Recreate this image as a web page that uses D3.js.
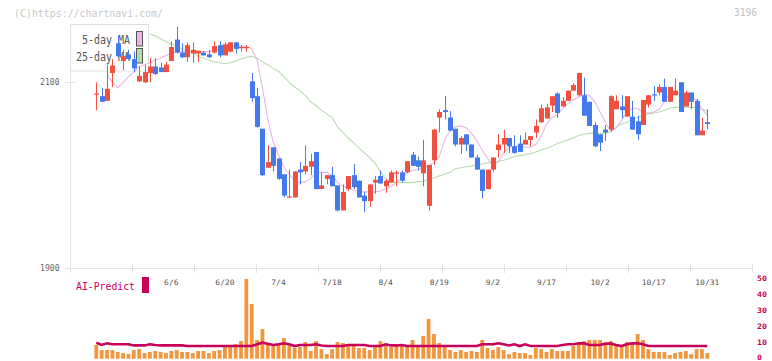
<!DOCTYPE html>
<html><head><meta charset="utf-8">
<script src="https://cdn.jsdelivr.net/npm/d3@7/dist/d3.min.js"></script>
<style>html,body{margin:0;padding:0;background:#fff}svg{display:block}text{font-family:"DejaVu Sans Mono",monospace}</style>
</head><body><svg id="c" width="772" height="361"></svg>
<script>
// ---- data ----
const open = [2088,2085,2080,2110,2142,2123,2130,2125,2101,2100, 2110,2117,2116,2111,2123,2146,2132,2127,2131,2131,
 2132,2130,2132,2140,2129,2133,2143,2137,2137,2101, 2085,2050,2008,2030,2018,2001,1976,1976,2006,2004,
 2009,2025,1985,1996,2000,1989,1962,1985,2000,1994, 1978,1972,1992,1999,1988,1992,2002,2003,2003,2022,
 2016,2002,1967,2016,2062,2070,2062,2050,2033,2044, 2033,2019,2006,1985,2006,2027,2033,2040,2031,2034,
 2033,2038,2046,2057,2061,2075,2088,2074,2080,2091, 2086,2086,2079,2054,2044,2049,2049,2071,2074,2063,
 2063,2058,2054,2076,2087,2089,2095,2079,2086,2100, 2074,2089,2080,2043,2057];
const close = [2088,2079,2093,2118,2128,2128,2125,2115,2107,2111, 2117,2109,2111,2119,2138,2132,2127,2140,2135,2134,
 2129,2127,2139,2129,2141,2143,2136,2138,2138,2083, 2052,2000,2014,2010,1996,1978,1977,2004,2003,2010,
 2015,1985,1989,2000,1988,1962,1982,1999,1987,1976, 1972,1990,1995,1991,1994,2003,2003,1994,2015,2010,
 2009,2016,2011,2049,2068,2068,2048,2033,2040,2033, 2019,2006,1983,2006,2019,2033,2040,2031,2024,2025,
 2038,2042,2053,2072,2073,2085,2067,2080,2091,2097, 2110,2064,2053,2031,2035,2046,2085,2080,2070,2085,
 2049,2044,2081,2086,2086,2095,2079,2095,2091,2068, 2089,2079,2043,2048,2055];
const high = [2100,2094,2119,2125,2150,2135,2135,2133,2117,2119, 2126,2126,2121,2122,2144,2160,2142,2143,2143,2134,
 2134,2135,2144,2144,2143,2143,2143,2140,2140,2110, 2094,2050,2032,2030,2018,2001,2006,2004,2014,2032,
 2023,2025,2003,2000,2009,1989,1990,1999,2012,1994, 1982,1990,1999,2005,1996,2005,2005,2005,2015,2025,
 2020,2038,2011,2050,2071,2085,2069,2050,2042,2044, 2033,2022,2006,2006,2019,2044,2049,2040,2043,2043,
 2046,2042,2060,2076,2077,2085,2089,2084,2091,2099, 2110,2105,2079,2057,2044,2054,2086,2086,2086,2085,
 2080,2064,2081,2086,2096,2098,2104,2095,2104,2100, 2091,2089,2082,2062,2071];
const low = [2070,2079,2080,2095,2127,2113,2124,2111,2100,2099, 2100,2108,2111,2111,2123,2131,2126,2122,2121,2122,
 2129,2126,2131,2127,2129,2132,2131,2133,2133,2079, 2051,1999,2008,2004,1995,1976,1976,1976,1990,2001,
 2000,1985,1985,1990,1988,1961,1962,1983,1985,1976, 1960,1966,1980,1991,1981,1992,1988,1992,2002,2010,
 2005,1988,1962,2011,2046,2060,2047,2031,2023,2026, 2019,2006,1975,1985,2004,2019,2024,2024,2023,2025,
 2033,2031,2040,2056,2061,2068,2062,2074,2080,2091, 2085,2064,2053,2030,2026,2037,2047,2071,2061,2063,
 2049,2038,2054,2073,2080,2086,2079,2079,2086,2068, 2074,2071,2043,2043,2049];
const ma5 = [null,null,2108,2100,2094,2100,2106,2111,2117,2119, 2121,2124,2126,2129,2131,2133,2133,2133,2133,2133,
 2133,2133,2134,2135,2136,2138,2139,2139,2139,2136, 2124,2094,2060,2036,2022,2009,2001,1994,1992,1993,
 1996,2003,2003,2003,2000,1992,1988,1986,1984,1982, 1982,1982,1982,1983,1985,1988,1992,1997,2003,2005,
 2006,2008,2010,2014,2020,2038,2048,2052,2053,2051, 2045,2037,2027,2018,2010,2014,2024,2030,2031,2031,
 2030,2030,2033,2042,2055,2062,2065,2072,2077,2081, 2084,2087,2086,2079,2068,2057,2047,2051,2059,2068,
 2072,2072,2067,2067,2068,2071,2079,2088,2088,2088, 2087,2083,2081,2071,2065];
const ma25 = [null,null,null,null,null,null,null,null,null,null, 2152,2150,2147,2144,2141,2139,2136,2134,2132,2128,
 2126,2124,2122,2121,2120,2121,2123,2125,2127,2128, 2126,2122,2119,2115,2112,2106,2100,2095,2091,2086,
 2079,2075,2070,2066,2062,2052,2046,2040,2035,2029, 2024,2019,2013,2004,1996,1993,1992,1992,1992,1992,
 1993,1993,1996,1997,1999,2001,2003,2007,2008,2009, 2010,2011,2012,2013,2014,2015,2016,2018,2020,2021,
 2022,2023,2025,2027,2029,2031,2034,2036,2038,2040, 2043,2044,2045,2045,2045,2045,2047,2051,2055,2057,
 2060,2062,2064,2066,2067,2068,2070,2072,2073,2073, 2073,2073,2073,2071,2069];
const volume = [8.6,5.4,5.4,5.4,4.2,3.5,2.9,5.4,6.0,3.5, 4.2,4.8,4.2,3.5,4.8,5.4,4.2,4.2,3.5,4.8,
 4.8,3.5,4.8,5.4,7.3,7.3,9.2,11.0,49.8,34.2, 11.7,18.5,9.2,7.9,9.2,12.9,8.5,6.7,7.3,10.4,
 4.8,11.0,6.0,2.9,6.0,10.4,9.8,8.5,9.2,6.7, 6.7,5.4,7.3,11.0,8.5,7.3,8.5,8.5,8.5,11.7,
 8.5,14.2,24.8,15.4,9.8,7.3,5.4,4.2,5.4,4.2, 4.8,4.2,11.7,6.7,5.4,7.3,5.4,2.9,4.2,3.5,
 3.5,2.3,6.7,6.0,4.2,6.0,4.8,4.8,4.8,7.9, 9.2,11.0,11.7,11.7,11.7,8.5,11.0,8.5,7.3,10.4,
 9.8,15.4,11.7,6.0,4.2,4.2,4.2,2.3,3.5,4.2, 4.8,2.9,6.0,6.0,3.5];
const aiPredict = [10,8.6,9.6,9,9,9,9,8.3,8.3,8.3, 9,8.6,8.3,8.3,8.3,8.3,8.3,7.9,7.9,7.9,
 7.9,7.9,7.9,7.9,7.9,7.9,7.9,7.9,7.9,7.9, 9,10,9.4,8.6,9,9.6,9,7.9,8.6,8.6,
 8.6,9,8.3,7.9,7.9,7.9,7.9,8.6,8.6,8.6, 8.6,7.9,7.9,7.9,9,8.3,8.3,8.6,7.9,7.9,
 7.9,7.9,7.9,7.9,7.9,7.9,7.9,7.9,7.9,7.9, 7.9,7.9,9,9,9,9.6,9,8.3,9,7.9,
 9,7.9,7.9,7.9,7.9,7.9,7.9,8.6,9,9, 9.6,9.6,8.6,8.6,8.6,9.4,9.4,8.6,7.9,9,
 9.6,9.6,9,7.9,7.9,7.9,7.9,7.9,7.9,7.9, 7.9,7.9,7.9,7.9,7.9];
const dateTickIdx = [14,24,34,44,54,64,74,84,94,104,114];
const dateTickLabels = ["6/6","6/20","7/4","7/18","8/4","8/19","9/2","9/17","10/2","10/17","10/31"];
const priceTicks = [1900, 2100];
const volTicks = [0,10,20,30,40,50];

// ---- drawing ----
const svg = d3.select("#c");
const n = close.length;
const x = d3.scaleLinear().domain([0, n-1]).range([96.3, 707.3]);
const y = d3.scaleLinear().domain([1900, 2100]).range([268, 82.3]);
const yv = d3.scaleLinear().domain([0, 50]).range([358.7, 278.7]);
const grid = d3.scaleLinear().domain([0, 11]).range([70, 752]);
const grey = "#e2e2e2";

svg.append("rect").attr("width",772).attr("height",361).attr("fill","#fff");

// watermark + code
svg.append("text").attr("x",14).attr("y",16.5).attr("font-size",11).attr("fill","#c8c8c8")
  .attr("textLength",149).attr("lengthAdjust","spacingAndGlyphs").text("(C)https://chartnavi.com/");
svg.append("text").attr("x",734).attr("y",16).attr("font-size",11).attr("fill","#c4c4c4")
  .attr("textLength",23).attr("lengthAdjust","spacingAndGlyphs").text("3196");

// axis frame
svg.append("line").attr("x1",70.5).attr("x2",70.5).attr("y1",24).attr("y2",268.5).attr("stroke",grey);
svg.append("line").attr("x1",65).attr("x2",752).attr("y1",268.5).attr("y2",268.5).attr("stroke",grey);
svg.selectAll(".gt").data(d3.range(12)).join("line")
  .attr("x1",d=>Math.round(grid(d))+0.5).attr("x2",d=>Math.round(grid(d))+0.5)
  .attr("y1",264).attr("y2",273).attr("stroke",grey);
svg.selectAll(".pt").data(priceTicks).join("line")
  .attr("x1",65).attr("x2",75).attr("y1",d=>Math.round(y(d))+0.5).attr("y2",d=>Math.round(y(d))+0.5).attr("stroke",grey);
svg.selectAll(".pl").data(priceTicks).join("text")
  .attr("x",59.5).attr("y",d=>y(d)+3).attr("text-anchor","end").attr("font-size",8).attr("fill","#666")
  .attr("textLength",19.5).attr("lengthAdjust","spacingAndGlyphs").text(d=>d);

// legend box
svg.append("rect").attr("x",70.5).attr("y",24.5).attr("width",78).attr("height",46.5)
  .attr("fill","#fff").attr("stroke","#dedede");
svg.append("text").attr("x",130).attr("y",44.3).attr("text-anchor","end").attr("font-size",12).attr("fill","#555")
  .attr("textLength",48).attr("lengthAdjust","spacingAndGlyphs").text("5-day MA");
svg.append("text").attr("x",130).attr("y",61).attr("text-anchor","end").attr("font-size",12).attr("fill","#555")
  .attr("textLength",54).attr("lengthAdjust","spacingAndGlyphs").text("25-day MA");
svg.append("rect").attr("x",136.5).attr("y",31.5).attr("width",6).attr("height",14.5).attr("fill","#ebb8e6").attr("stroke","#555");
svg.append("rect").attr("x",136.5).attr("y",48.5).attr("width",6).attr("height",14.5).attr("fill","#b6dbab").attr("stroke","#555");

// moving averages
const lineGen = d3.line().defined(d=>d!=null).x((d,i)=>x(i)).y(d=>y(d));
svg.append("path").datum(ma25).attr("d",lineGen).attr("fill","none").attr("stroke","#b9ddb0").attr("stroke-width",1.1);
svg.append("path").datum(ma5).attr("d",lineGen).attr("fill","none").attr("stroke","#e9b6e8").attr("stroke-width",1.1);

// candles
const up = "#f24f3f", down = "#4279ec";
const idx = d3.range(n);
const cg = svg.append("g");
cg.selectAll(".w").data(idx).join("line")
  .attr("x1",i=>Math.round(x(i))+0.5).attr("x2",i=>Math.round(x(i))+0.5)
  .attr("y1",i=>y(high[i])).attr("y2",i=>y(low[i]))
  .attr("stroke",i=>close[i]>=open[i]?up:down).attr("stroke-width",1);
cg.selectAll(".b").data(idx).join("rect")
  .attr("x",i=>Math.round(x(i))-2).attr("width",5)
  .attr("y",i=>y(Math.max(open[i],close[i])))
  .attr("height",i=>Math.max(1.2, Math.abs(y(open[i])-y(close[i]))))
  .attr("fill",i=>close[i]>=open[i]?up:down);

// date labels
svg.selectAll(".dl").data(dateTickIdx).join("text")
  .attr("x",i=>x(i)).attr("y",285).attr("text-anchor","middle").attr("font-size",7.5).attr("fill","#555")
  .attr("textLength",(d,k)=>dateTickLabels[k].length*4.8).attr("lengthAdjust","spacingAndGlyphs")
  .text((d,k)=>dateTickLabels[k]);

// volume
svg.selectAll(".v").data(idx).join("rect")
  .attr("x",i=>x(i)-1.9).attr("width",3.8)
  .attr("y",i=>yv(volume[i])).attr("height",i=>yv(0)-yv(volume[i]))
  .attr("fill","#f2963e");
svg.append("path").datum(aiPredict)
  .attr("d",d3.line().x((d,i)=>x(i)).y(d=>yv(d)))
  .attr("fill","none").attr("stroke","#c8005a").attr("stroke-width",2.6);

// AI-Predict legend
svg.append("text").attr("x",76).attr("y",290).attr("font-size",11).attr("fill","#c8005a")
  .attr("textLength",59).attr("lengthAdjust","spacingAndGlyphs").text("AI-Predict");
svg.append("rect").attr("x",142).attr("y",277).attr("width",7).attr("height",16).attr("fill","#c8005a");

// right volume axis labels
svg.selectAll(".vl").data(volTicks).join("text")
  .attr("x",757).attr("y",d=>Math.min(yv(d)+2,360)).attr("font-size",7.5).attr("font-weight","bold").attr("fill","#c8005a")
  .attr("textLength",d=>String(d).length*5).attr("lengthAdjust","spacingAndGlyphs").text(d=>d);
</script></body></html>
